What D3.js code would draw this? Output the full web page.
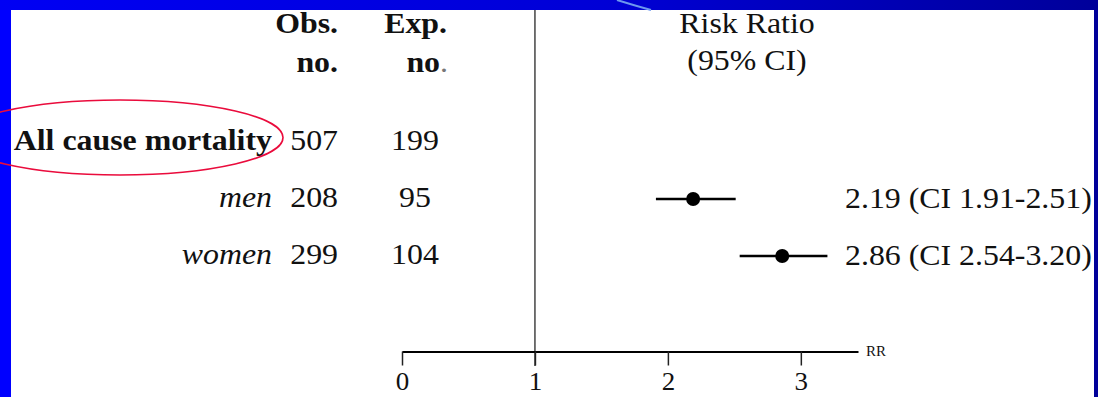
<!DOCTYPE html>
<html>
<head>
<meta charset="utf-8">
<script src="https://cdn.jsdelivr.net/npm/d3@7/dist/d3.min.js"></script>
<style>
  html, body { margin: 0; padding: 0; background: #fff; }
  svg { display: block; }
  text { font-family: "Liberation Serif", "Times New Roman", Times, serif; fill: #111; }
</style>
</head>
<body>
<script>
// Forest plot: observed vs expected deaths and risk ratios
const rowLabels = ["All cause mortality", "men", "women"];
const rowStyles = ["bold", "italic", "italic"];
const obsNo = [507, 208, 299];
const expNo = [199, 95, 104];
const riskRatio = [null, 2.19, 2.86];
const ciLow = [null, 1.91, 2.54];
const ciHigh = [null, 2.51, 3.20];
const rrLabels = ["", "2.19 (CI 1.91-2.51)", "2.86 (CI 2.54-3.20)"];
const tickValues = [0, 1, 2, 3];

const W = 1098, H = 397;
const FS = 29.5;       // body font size
const SX = 1.08;       // horizontal stretch of the slide text

const svg = d3.select("body").append("svg")
  .attr("width", W).attr("height", H);

// slide frame
const defs = svg.append("defs");
const grad = defs.append("linearGradient").attr("id", "topband")
  .attr("x1", "0%").attr("x2", "100%");
grad.append("stop").attr("offset", "0%").attr("stop-color", "#0000f4");
grad.append("stop").attr("offset", "55%").attr("stop-color", "#0000d6");
grad.append("stop").attr("offset", "100%").attr("stop-color", "#00009a");

svg.append("rect").attr("x", 0).attr("y", 0).attr("width", 11).attr("height", H).attr("fill", "#0000ff");
svg.append("rect").attr("x", 0).attr("y", 0).attr("width", W).attr("height", 10).attr("fill", "url(#topband)");
svg.append("rect").attr("x", 1094).attr("y", 0).attr("width", 4).attr("height", H).attr("fill", "#00009a");
svg.append("path").attr("d", "M617,0 Q633,5 651,10")
  .attr("fill", "none").attr("stroke", "#6d98ee").attr("stroke-width", 2);

// scales
const x = d3.scaleLinear().domain([0, 3.43]).range([402, 858]);
const y = d3.scalePoint().domain(rowLabels).range([150, 264]);

function txt(g, s, px, py, opts = {}) {
  return g.append("text")
    .attr("transform", `translate(${px},${py}) scale(${SX},1)`)
    .attr("font-size", opts.size || FS)
    .attr("text-anchor", opts.anchor || "start")
    .attr("font-weight", opts.weight || "normal")
    .attr("font-style", opts.style || "normal")
    .text(s);
}

const g = svg.append("g");

// column headers
txt(g, "Obs.", 338, 33, { anchor: "end", weight: "bold" });
txt(g, "no.", 338, 72, { anchor: "end", weight: "bold" });
txt(g, "Exp.", 447, 33, { anchor: "end", weight: "bold" });
const expNoHead = txt(g, "", 448, 72, { anchor: "end" });
expNoHead.append("tspan").attr("font-weight", "bold").text("no");
expNoHead.append("tspan").attr("fill", "#777").text(".");
txt(g, "Risk Ratio", 747, 33, { anchor: "middle" });
txt(g, "(95% CI)", 747, 70, { anchor: "middle" });

// reference line at RR = 1
svg.append("line")
  .attr("x1", x(1)).attr("x2", x(1))
  .attr("y1", 10).attr("y2", 366)
  .attr("stroke", "#444").attr("stroke-width", 1.5);

// rows
rowLabels.forEach((lab, i) => {
  const yy = y(lab);
  txt(g, lab, 272, yy, {
    anchor: "end",
    weight: rowStyles[i] === "bold" ? "bold" : "normal",
    style: rowStyles[i] === "italic" ? "italic" : "normal"
  });
  txt(g, obsNo[i], 338, yy, { anchor: "end" });
  txt(g, expNo[i], 415, yy, { anchor: "middle" });
  if (riskRatio[i] != null) {
    const cy = yy - 8;
    svg.append("line")
      .attr("x1", x(ciLow[i])).attr("x2", x(ciHigh[i]))
      .attr("y1", cy).attr("y2", cy)
      .attr("stroke", "#000").attr("stroke-width", 2.5);
    svg.append("circle")
      .attr("cx", x(riskRatio[i])).attr("cy", cy).attr("r", 7)
      .attr("fill", "#000");
    txt(g, rrLabels[i], 845, yy + 1);
  }
});

// x axis
const axisG = svg.append("g")
  .attr("transform", "translate(0,351.5)")
  .call(d3.axisBottom(x).tickValues(tickValues).tickFormat(d3.format("d"))
    .tickSize(14).tickSizeOuter(0));
axisG.select(".domain").attr("stroke", "#000").attr("stroke-width", 2.2);
axisG.selectAll(".tick line").attr("stroke", "#222").attr("stroke-width", 1.5);
axisG.selectAll(".tick text")
  .attr("font-family", "Liberation Serif, Times New Roman, serif")
  .attr("font-size", 25)
  .attr("fill", "#111")
  .attr("y", null)
  .attr("dy", null)
  .attr("transform", `translate(0,38.5) scale(${SX},1)`);
axisG.append("text")
  .attr("x", 866).attr("y", 4)
  .attr("font-size", 15)
  .attr("fill", "#111")
  .attr("font-family", "Liberation Serif, Times New Roman, serif")
  .attr("text-anchor", "start")
  .text("RR");

// highlight around the first row label
svg.append("ellipse")
  .attr("cx", 120).attr("cy", 137.5)
  .attr("rx", 163).attr("ry", 37.5)
  .attr("fill", "none")
  .attr("stroke", "#ea0b3c").attr("stroke-width", 1.6);
</script>
</body>
</html>
